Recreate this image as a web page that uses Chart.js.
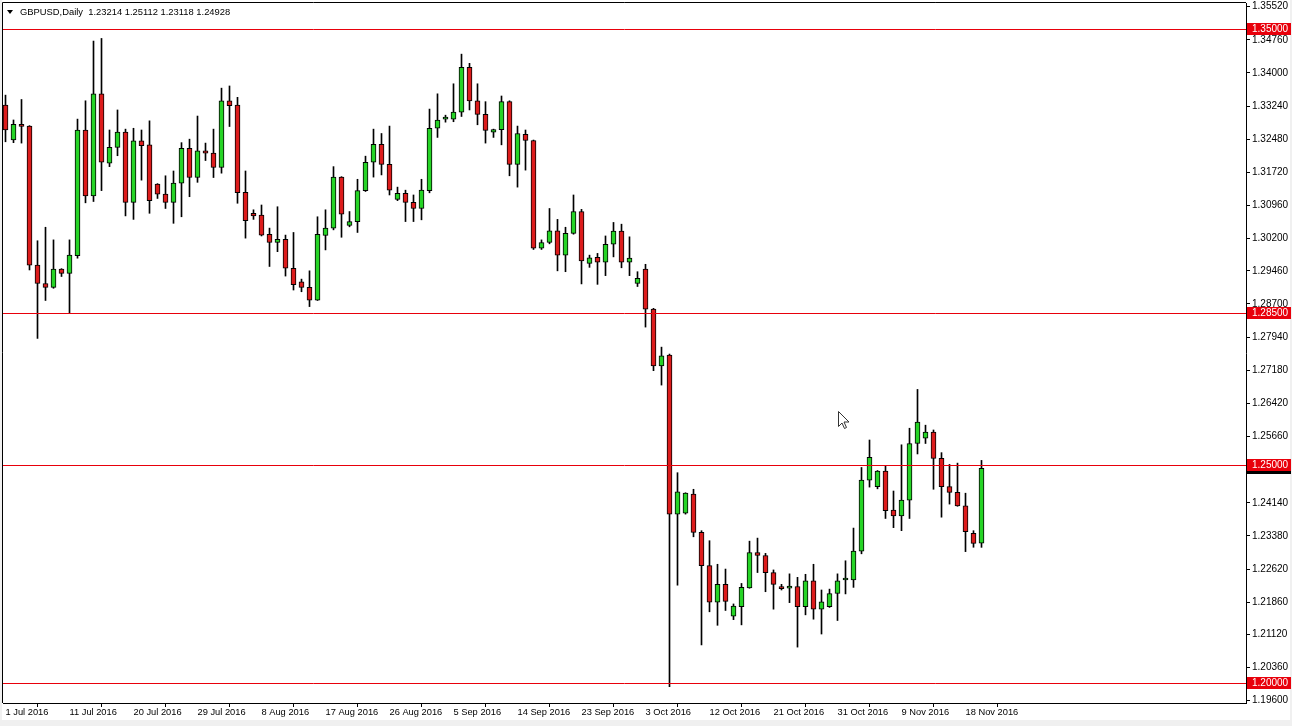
<!DOCTYPE html>
<html lang="en">
<head>
  <meta charset="UTF-8">
  <title>GBPUSD, Daily</title>
  <script src="https://cdn.jsdelivr.net/npm/chart.js"></script>
  <style>
    html, body {
      margin: 0;
      padding: 0;
      background: #ffffff;
      overflow: hidden;
    }
    canvas { display: block; }
  </style>
</head>
<body>
  <canvas id="gbpusd" width="1292" height="726"></canvas>

  <script>
    // Trading days, Sunday bars included (broker feed)
    const dates = [
      '1 Jul', '3 Jul', '4 Jul', '5 Jul', '6 Jul', '7 Jul', '8 Jul', '10 Jul', '11 Jul', '12 Jul',
      '13 Jul', '14 Jul', '15 Jul', '17 Jul', '18 Jul', '19 Jul', '20 Jul', '21 Jul', '22 Jul', '24 Jul',
      '25 Jul', '26 Jul', '27 Jul', '28 Jul', '29 Jul', '31 Jul', '1 Aug', '2 Aug', '3 Aug', '4 Aug',
      '5 Aug', '7 Aug', '8 Aug', '9 Aug', '10 Aug', '11 Aug', '12 Aug', '14 Aug', '15 Aug', '16 Aug',
      '17 Aug', '18 Aug', '19 Aug', '21 Aug', '22 Aug', '23 Aug', '24 Aug', '25 Aug', '26 Aug', '28 Aug',
      '29 Aug', '30 Aug', '31 Aug', '1 Sep', '2 Sep', '4 Sep', '5 Sep', '6 Sep', '7 Sep', '8 Sep',
      '9 Sep', '11 Sep', '12 Sep', '13 Sep', '14 Sep', '15 Sep', '16 Sep', '18 Sep', '19 Sep', '20 Sep',
      '21 Sep', '22 Sep', '23 Sep', '25 Sep', '26 Sep', '27 Sep', '28 Sep', '29 Sep', '30 Sep', '2 Oct',
      '3 Oct', '4 Oct', '5 Oct', '6 Oct', '7 Oct', '9 Oct', '10 Oct', '11 Oct', '12 Oct', '13 Oct',
      '14 Oct', '16 Oct', '17 Oct', '18 Oct', '19 Oct', '20 Oct', '21 Oct', '23 Oct', '24 Oct', '25 Oct',
      '26 Oct', '27 Oct', '28 Oct', '30 Oct', '31 Oct', '1 Nov', '2 Nov', '3 Nov', '4 Nov', '6 Nov',
      '7 Nov', '8 Nov', '9 Nov', '10 Nov', '11 Nov', '13 Nov', '14 Nov', '15 Nov', '16 Nov', '17 Nov',
      '18 Nov', '20 Nov', '21 Nov'
    ];

    const opens = [
      1.3326, 1.3246, 1.3282, 1.3278, 1.2959, 1.2917, 1.2908, 1.2950, 1.2940, 1.2981,
      1.3269, 1.3118, 1.3352, 1.3193, 1.3229, 1.3264, 1.3103, 1.3244, 1.3235, 1.3145,
      1.3122, 1.3103, 1.3147, 1.3227, 1.3160, 1.3221, 1.3216, 1.3183, 1.3336, 1.3326,
      1.3126, 1.3078, 1.3074, 1.3030, 1.3011, 1.3018, 1.2952, 1.2921, 1.2908, 1.2879,
      1.3027, 1.3044, 1.3161, 1.3050, 1.3059, 1.3130, 1.3195, 1.3236, 1.3190, 1.3110,
      1.3124, 1.3103, 1.3089, 1.3130, 1.3273, 1.3294, 1.3294, 1.3310, 1.3413, 1.3336,
      1.3305, 1.3264, 1.3270, 1.3334, 1.3190, 1.3259, 1.3245, 1.2998, 1.3011, 1.3038,
      1.2982, 1.3032, 1.3082, 1.2963, 1.2977, 1.2966, 1.3007, 1.3037, 1.2966, 1.2917,
      1.2950, 1.2858, 1.2728, 1.2753, 1.2388, 1.2390, 1.2434, 1.2346, 1.2270, 1.2186,
      1.2227, 1.2154, 1.2176, 1.2219, 1.2300, 1.2293, 1.2254, 1.2219, 1.2218, 1.2222,
      1.2176, 1.2235, 1.2170, 1.2176, 1.2206, 1.2237, 1.2237, 1.2303, 1.2466, 1.2451,
      1.2487, 1.2397, 1.2384, 1.2420, 1.2550, 1.2562, 1.2576, 1.2516, 1.2451, 1.2438,
      1.2407, 1.2344, 1.23214
    ];
    const highs = [
      1.3349, 1.3292, 1.3339, 1.3279, 1.3015, 1.3046, 1.3017, 1.2951, 1.3017, 1.3294,
      1.3336, 1.3473, 1.3479, 1.3269, 1.3315, 1.3271, 1.3273, 1.3269, 1.3290, 1.3146,
      1.3164, 1.3175, 1.3240, 1.3248, 1.3301, 1.3239, 1.3271, 1.3365, 1.3370, 1.3344,
      1.3175, 1.3086, 1.3097, 1.3044, 1.3093, 1.3028, 1.3034, 1.2927, 1.2946, 1.3070,
      1.3086, 1.3185, 1.3162, 1.3082, 1.3156, 1.3209, 1.3271, 1.3261, 1.3278, 1.3138,
      1.3131, 1.3120, 1.3156, 1.3317, 1.3352, 1.3303, 1.3375, 1.3443, 1.3422, 1.3375,
      1.3334, 1.3271, 1.3347, 1.3336, 1.3278, 1.3269, 1.3246, 1.3017, 1.3089, 1.3064,
      1.3046, 1.3120, 1.3087, 1.2982, 1.2986, 1.3026, 1.3057, 1.3053, 1.3024, 1.2944,
      1.2961, 1.2860, 1.2771, 1.2755, 1.2483, 1.2437, 1.2445, 1.2350, 1.2327, 1.2273,
      1.2262, 1.2182, 1.2229, 1.2326, 1.2333, 1.2298, 1.2260, 1.2227, 1.2251, 1.2243,
      1.2250, 1.2273, 1.2214, 1.2216, 1.2251, 1.2281, 1.2356, 1.2495, 1.2558, 1.2488,
      1.2498, 1.2441, 1.2547, 1.2585, 1.2674, 1.2592, 1.2581, 1.2529, 1.2502, 1.2505,
      1.2436, 1.2350, 1.25112
    ];
    const lows = [
      1.3242, 1.3240, 1.3239, 1.2948, 1.2791, 1.2878, 1.2906, 1.2933, 1.2849, 1.2975,
      1.3102, 1.3105, 1.3130, 1.3185, 1.3210, 1.3072, 1.3064, 1.3154, 1.3078, 1.3112,
      1.3089, 1.3055, 1.3070, 1.3116, 1.3149, 1.3199, 1.3160, 1.3170, 1.3277, 1.3101,
      1.3021, 1.3064, 1.3026, 1.2956, 1.2990, 1.2934, 1.2902, 1.2898, 1.2864, 1.2878,
      1.2994, 1.3040, 1.3023, 1.3047, 1.3034, 1.3128, 1.3161, 1.3166, 1.3120, 1.3107,
      1.3059, 1.3059, 1.3063, 1.3125, 1.3252, 1.3287, 1.3288, 1.3300, 1.3315, 1.3281,
      1.3239, 1.3252, 1.3235, 1.3164, 1.3138, 1.3177, 1.2995, 1.2995, 1.3008, 1.2946,
      1.2944, 1.3030, 1.2916, 1.2954, 1.2915, 1.2935, 1.2978, 1.2953, 1.2935, 1.2910,
      1.2817, 1.2717, 1.2684, 1.1992, 1.2225, 1.2388, 1.2336, 1.2088, 1.2164, 1.2133,
      1.2167, 1.2146, 1.2134, 1.2218, 1.2254, 1.2210, 1.2170, 1.2214, 1.2185, 1.2083,
      1.2157, 1.2147, 1.2113, 1.2174, 1.2144, 1.2205, 1.2220, 1.2297, 1.2450, 1.2446,
      1.2378, 1.2357, 1.2350, 1.2378, 1.2526, 1.2550, 1.2445, 1.2381, 1.2411, 1.2406,
      1.2302, 1.2312, 1.23118
    ];
    const closes = [
      1.3269, 1.3282, 1.3277, 1.2959, 1.2917, 1.2908, 1.2950, 1.2940, 1.2982, 1.3269,
      1.3118, 1.3352, 1.3195, 1.3229, 1.3264, 1.3103, 1.3244, 1.3233, 1.3107, 1.3122,
      1.3103, 1.3147, 1.3227, 1.3160, 1.3221, 1.3216, 1.3183, 1.3336, 1.3325, 1.3125,
      1.3061, 1.3072, 1.3028, 1.3011, 1.3018, 1.2952, 1.2914, 1.2908, 1.2879, 1.3030,
      1.3044, 1.3161, 1.3076, 1.3059, 1.3130, 1.3195, 1.3236, 1.3190, 1.3131, 1.3124,
      1.3103, 1.3089, 1.3131, 1.3273, 1.3292, 1.3295, 1.3310, 1.3413, 1.3336, 1.3305,
      1.3268, 1.3270, 1.3334, 1.3190, 1.3261, 1.3245, 1.2998, 1.3011, 1.3038, 1.2982,
      1.3032, 1.3082, 1.2969, 1.2976, 1.2966, 1.3007, 1.3037, 1.2966, 1.2975, 1.2929,
      1.2858, 1.2728, 1.2751, 1.2388, 1.2439, 1.2436, 1.2346, 1.2270, 1.2186, 1.2227,
      1.2188, 1.2177, 1.2220, 1.2300, 1.2293, 1.2254, 1.2227, 1.2217, 1.2223, 1.2176,
      1.2235, 1.2170, 1.2187, 1.2206, 1.2235, 1.2238, 1.2303, 1.2466, 1.2518, 1.2487,
      1.2396, 1.2384, 1.2420, 1.2550, 1.2599, 1.2576, 1.2516, 1.2451, 1.2438, 1.2407,
      1.2348, 1.2321, 1.24928
    ];

    // labels written under the time axis
    const axisDates = ['1 Jul', '11 Jul', '20 Jul', '29 Jul', '8 Aug', '17 Aug', '26 Aug', '5 Sep',
      '14 Sep', '23 Sep', '3 Oct', '12 Oct', '21 Oct', '31 Oct', '9 Nov', '18 Nov'];

    // price scale labels (as printed by the terminal)
    const priceTicks = [1.35520, 1.34760, 1.34000, 1.33240, 1.32480, 1.31720, 1.30960, 1.30200,
      1.29460, 1.28700, 1.27940, 1.27180, 1.26420, 1.25660, 1.24900, 1.24140, 1.23380, 1.22620,
      1.21860, 1.21120, 1.20360, 1.19600];

    // horizontal support / resistance lines
    const levels = [1.35, 1.285, 1.25, 1.20];

    const symbol = 'GBPUSD,Daily';

    const last = opens.length - 1;
    const bidPrice = closes[last];
    const tickIdx = axisDates.map(d => dates.indexOf(d));

    const UP = '#26d426';
    const DOWN = '#dc1c1c';
    const LINE = '#e8000b';
    const FONT = 'Liberation Sans, Arial, sans-serif';

    const wicks = lows.map((l, i) => ({ x: i, y: [l, highs[i]] }));
    const bodies = opens.map((o, i) => ({ x: i, y: [o, closes[i]] }));

    const mt4Plugin = {
      id: 'mt4',
      beforeDraw(chart) {
        const c = chart.ctx;
        c.save();
        c.fillStyle = '#ffffff';
        c.fillRect(0, 0, chart.width, chart.height);
        c.fillStyle = '#f0f0f0';
        c.fillRect(0, 720, chart.width, 6);
        c.fillRect(1290, 0, 2, chart.height);
        c.fillRect(0, 0, 2, chart.height);
        c.restore();
      },
      afterDatasetsDraw(chart) {
        const c = chart.ctx;
        const a = chart.chartArea;
        const y = chart.scales.y;
        c.save();
        c.strokeStyle = LINE;
        c.lineWidth = 1;
        levels.forEach(v => {
          const py = Math.round(y.getPixelForValue(v)) + 0.5;
          c.beginPath();
          c.moveTo(a.left, py);
          c.lineTo(a.right, py);
          c.stroke();
        });
        c.restore();
      },
      afterDraw(chart) {
        const c = chart.ctx;
        const a = chart.chartArea;
        const y = chart.scales.y;
        c.save();

        // frame (left and top edges)
        c.strokeStyle = '#000';
        c.lineWidth = 1;
        c.beginPath();
        c.moveTo(a.left - 0.5, a.bottom);
        c.lineTo(a.left - 0.5, a.top - 0.5);
        c.lineTo(a.right, a.top - 0.5);
        c.stroke();

        c.font = '10px ' + FONT;
        c.textBaseline = 'middle';
        c.textAlign = 'left';

        // bid price label
        const by = Math.round(y.getPixelForValue(bidPrice));
        c.fillStyle = '#000';
        c.fillRect(a.right + 1, by - 6, 44, 12);
        c.fillStyle = '#fff';
        c.fillText(bidPrice.toFixed(5), a.right + 6, by + 0.5);

        // level labels
        levels.forEach(v => {
          const py = Math.round(y.getPixelForValue(v));
          c.fillStyle = LINE;
          c.fillRect(a.right + 1, py - 6, 44, 12);
          c.fillStyle = '#fff';
          c.fillText(v.toFixed(5), a.right + 6, py + 0.5);
        });

        // symbol header
        c.fillStyle = '#000';
        c.beginPath();
        c.moveTo(7, 10);
        c.lineTo(13, 10);
        c.lineTo(10, 14);
        c.closePath();
        c.fill();
        c.font = '9.4px ' + FONT;
        const ohlc = [opens[last], highs[last], lows[last], closes[last]].map(v => v.toFixed(5)).join(' ');
        c.fillText(symbol + '  ' + ohlc, 20, 12.5);

        // mouse pointer left on the chart
        c.translate(838.5, 411.5);
        c.beginPath();
        c.moveTo(0, 0);
        c.lineTo(0, 15);
        c.lineTo(3.5, 11.5);
        c.lineTo(6, 17);
        c.lineTo(8, 16);
        c.lineTo(5.5, 10.5);
        c.lineTo(10.5, 10.5);
        c.closePath();
        c.fillStyle = '#fff';
        c.fill();
        c.strokeStyle = '#333';
        c.stroke();

        c.restore();
      }
    };

    new Chart(document.getElementById('gbpusd').getContext('2d'), {
      type: 'bar',
      data: {
        datasets: [
          {
            label: 'range',
            data: wicks,
            backgroundColor: '#000',
            barThickness: 1,
            grouped: false,
            order: 2
          },
          {
            label: 'body',
            data: bodies,
            backgroundColor: ctx => closes[ctx.dataIndex] >= opens[ctx.dataIndex] ? UP : DOWN,
            borderColor: '#000',
            borderWidth: 1,
            borderSkipped: false,
            barThickness: 5,
            minBarLength: 2,
            grouped: false,
            order: 1
          }
        ]
      },
      options: {
        responsive: false,
        devicePixelRatio: 1,
        animation: false,
        events: [],
        layout: { padding: { left: 3, top: 3, right: 0, bottom: 0 } },
        plugins: {
          legend: { display: false },
          tooltip: { enabled: false }
        },
        scales: {
          x: {
            type: 'linear',
            min: -0.3125,
            max: 155.0625,
            offset: false,
            afterFit: s => {
              s.height = 23;
              s.paddingLeft = 0;
              s.paddingRight = 0;
            },
            afterBuildTicks: s => { s.ticks = tickIdx.map(v => ({ value: v })); },
            grid: {
              drawOnChartArea: false,
              drawTicks: true,
              tickLength: 4,
              color: '#000'
            },
            border: { display: true, color: '#000' },
            ticks: {
              autoSkip: false,
              maxRotation: 0,
              align: 'start',
              padding: 0,
              color: '#000',
              font: { family: FONT, size: 9.3 },
              callback: v => dates[v] + ' 2016'
            }
          },
          y: {
            position: 'right',
            min: 1.19548,
            max: 1.35603,
            afterFit: s => {
              s.width = 46;
              s.paddingTop = 0;
              s.paddingBottom = 0;
            },
            afterBuildTicks: s => { s.ticks = priceTicks.map(v => ({ value: v })); },
            grid: {
              drawOnChartArea: false,
              drawTicks: true,
              tickLength: 4,
              color: '#000'
            },
            border: { display: true, color: '#000' },
            ticks: {
              autoSkip: false,
              padding: 2,
              color: '#000',
              font: { family: FONT, size: 10 },
              callback: v => v.toFixed(5)
            }
          }
        }
      },
      plugins: [mt4Plugin]
    });
  </script>
</body>
</html>
